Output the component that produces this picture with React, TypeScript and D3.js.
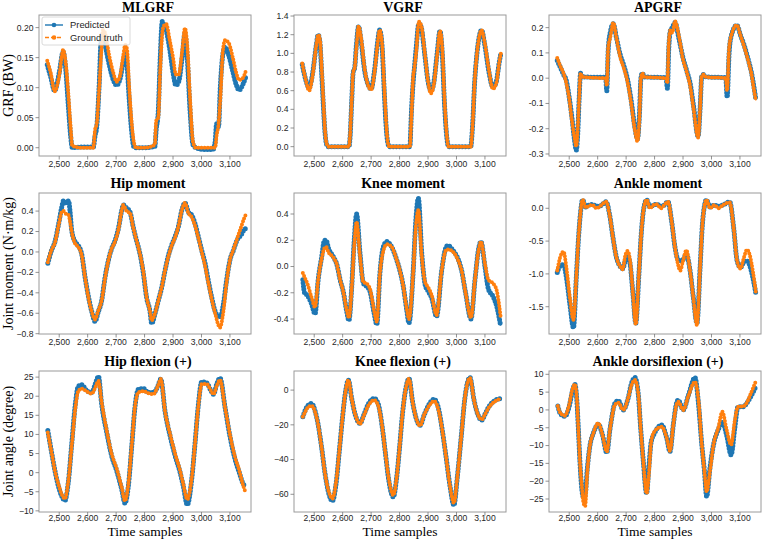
import React from 'react';
import * as d3 from 'd3';

const W = 766;
const H = 539;
const PRED_COLOR = '#1f77b4';
const TRUTH_COLOR = '#ff7f0e';
const SERIF = "'Liberation Serif', 'Times New Roman', serif";
const SANS = "'Liberation Sans', Arial, sans-serif";

// shared sample axis
const sampleTicks = [2500, 2600, 2700, 2800, 2900, 3000, 3100];

// ---- ground reaction forces ----
const mlgrfSamples = [2458, 2470, 2484, 2500, 2514, 2522, 2532, 2540, 2546, 2580, 2620, 2626, 2632, 2640, 2648, 2654, 2662, 2675, 2690, 2702, 2714, 2724, 2732, 2738, 2746, 2754, 2762, 2770, 2800, 2836, 2841, 2848, 2855, 2862, 2868, 2876, 2888, 2900, 2910, 2920, 2932, 2942, 2950, 2960, 2970, 2980, 3010, 3040, 3048, 3053, 3060, 3066, 3075, 3083, 3095, 3110, 3122, 3132, 3145, 3156];
const mlgrfPred = [0.138, 0.118, 0.095, 0.125, 0.16, 0.135, 0.07, 0.02, 0.0, 0.001, 0.001, 0.02, 0.035, 0.1, 0.185, 0.19, 0.17, 0.14, 0.113, 0.104, 0.115, 0.14, 0.157, 0.14, 0.08, 0.03, 0.002, 0.0, 0.0, 0.002, 0.03, 0.06, 0.15, 0.21, 0.205, 0.195, 0.165, 0.125, 0.104, 0.11, 0.15, 0.19, 0.15, 0.06, 0.005, 0.0, -0.003, -0.003, 0.01, 0.04, 0.035, 0.1, 0.155, 0.168, 0.155, 0.127, 0.105, 0.096, 0.105, 0.118];
const mlgrfTruth = [0.145, 0.125, 0.094, 0.12, 0.163, 0.145, 0.09, 0.035, 0.003, 0.0, 0.0, 0.03, 0.04, 0.095, 0.16, 0.196, 0.19, 0.155, 0.125, 0.11, 0.12, 0.15, 0.171, 0.165, 0.1, 0.045, 0.01, 0.0, 0.0, 0.005, 0.045, 0.05, 0.13, 0.19, 0.203, 0.206, 0.18, 0.15, 0.122, 0.122, 0.16, 0.199, 0.17, 0.08, 0.01, 0.0, 0.0, 0.0, 0.0, 0.02, 0.04, 0.08, 0.16, 0.179, 0.175, 0.15, 0.125, 0.113, 0.116, 0.128];

const vgrfSamples = [2458, 2470, 2482, 2495, 2507, 2514, 2520, 2526, 2532, 2538, 2544, 2550, 2622, 2626, 2632, 2637, 2642, 2648, 2656, 2664, 2678, 2690, 2700, 2712, 2722, 2730, 2738, 2746, 2752, 2758, 2764, 2836, 2842, 2848, 2852, 2858, 2868, 2876, 2888, 2900, 2910, 2920, 2932, 2942, 2950, 2958, 2966, 2972, 3050, 3056, 3064, 3072, 3080, 3088, 3100, 3114, 3128, 3140, 3150, 3156];
const vgrfPred = [0.88, 0.72, 0.63, 0.8, 1.08, 1.2, 1.12, 0.8, 0.45, 0.15, 0.02, 0.0, 0.0, 0.1, 0.5, 0.8, 0.84, 1.08, 1.29, 1.15, 0.8, 0.66, 0.62, 0.82, 1.1, 1.25, 1.1, 0.6, 0.25, 0.05, 0.0, 0.0, 0.4, 0.7, 0.84, 1.05, 1.32, 1.28, 1.0, 0.7, 0.6, 0.68, 1.0, 1.24, 1.0, 0.45, 0.1, 0.0, 0.0, 0.2, 0.7, 1.0, 1.18, 1.25, 1.08, 0.8, 0.64, 0.7, 0.9, 1.0];
const vgrfTruth = [0.89, 0.72, 0.6, 0.78, 1.08, 1.2, 1.15, 0.85, 0.5, 0.17, 0.03, 0.0, 0.0, 0.12, 0.5, 0.8, 0.84, 1.05, 1.29, 1.18, 0.82, 0.65, 0.61, 0.8, 1.08, 1.25, 1.12, 0.65, 0.3, 0.06, 0.0, 0.0, 0.35, 0.75, 0.84, 1.0, 1.34, 1.3, 1.02, 0.7, 0.57, 0.66, 0.98, 1.24, 1.05, 0.5, 0.12, 0.0, 0.0, 0.2, 0.7, 1.0, 1.18, 1.25, 1.1, 0.82, 0.62, 0.68, 0.9, 1.0];

const apgrfSamples = [2458, 2468, 2480, 2490, 2500, 2510, 2518, 2525, 2530, 2535, 2540, 2546, 2580, 2628, 2632, 2637, 2644, 2655, 2666, 2680, 2692, 2705, 2718, 2730, 2740, 2747, 2752, 2757, 2764, 2840, 2845, 2850, 2856, 2862, 2872, 2885, 2900, 2913, 2925, 2937, 2953, 2960, 2966, 2972, 2980, 3050, 3055, 3062, 3070, 3089, 3102, 3115, 3130, 3140, 3150, 3156];
const apgrfPred = [0.07, 0.045, 0.015, -0.01, -0.075, -0.16, -0.24, -0.285, -0.22, -0.08, 0.02, 0.005, 0.004, 0.003, -0.05, 0.11, 0.18, 0.215, 0.16, 0.09, 0.05, -0.005, -0.09, -0.19, -0.24, -0.14, 0.0, 0.02, 0.005, 0.002, -0.04, 0.12, 0.19, 0.2, 0.22, 0.16, 0.08, 0.03, -0.02, -0.11, -0.23, -0.12, 0.01, 0.015, 0.005, 0.002, -0.075, 0.1, 0.17, 0.21, 0.17, 0.13, 0.07, 0.025, -0.04, -0.085];
const apgrfTruth = [0.08, 0.05, 0.02, -0.02, -0.08, -0.17, -0.23, -0.27, -0.2, -0.08, 0.02, 0.005, 0.002, 0.0, -0.03, 0.12, 0.16, 0.22, 0.16, 0.08, 0.04, -0.015, -0.1, -0.2, -0.25, -0.15, 0.0, 0.02, 0.005, 0.0, -0.02, 0.14, 0.19, 0.18, 0.225, 0.17, 0.075, 0.025, -0.03, -0.12, -0.235, -0.12, 0.01, 0.015, 0.005, 0.0, -0.05, 0.12, 0.17, 0.21, 0.17, 0.125, 0.065, 0.02, -0.05, -0.088];

// ---- joint moments ----
const hipMomentSamples = [2460, 2473, 2485, 2497, 2509, 2515, 2525, 2533, 2538, 2544, 2556, 2567, 2579, 2591, 2603, 2614, 2626, 2638, 2649, 2661, 2673, 2684, 2696, 2708, 2720, 2725, 2737, 2749, 2760, 2772, 2784, 2796, 2807, 2819, 2825, 2837, 2848, 2860, 2872, 2884, 2895, 2907, 2919, 2931, 2942, 2954, 2966, 2977, 2989, 3001, 3013, 3024, 3036, 3048, 3065, 3077, 3088, 3100, 3112, 3124, 3140, 3150, 3155];
const hipMomentPred = [-0.11, 0.015, 0.1, 0.26, 0.44, 0.5, 0.48, 0.5, 0.4, 0.21, 0.1, 0.065, -0.02, -0.25, -0.44, -0.58, -0.68, -0.58, -0.48, -0.25, -0.08, 0.03, 0.11, 0.23, 0.41, 0.46, 0.43, 0.39, 0.245, 0.11, -0.02, -0.215, -0.445, -0.58, -0.7, -0.6, -0.48, -0.35, -0.18, -0.03, 0.065, 0.15, 0.25, 0.41, 0.48, 0.39, 0.36, 0.28, 0.15, 0.015, -0.115, -0.28, -0.445, -0.58, -0.64, -0.51, -0.28, -0.08, 0.015, 0.11, 0.17, 0.22, 0.23];
const hipMomentTruth = [-0.1, 0.02, 0.09, 0.25, 0.39, 0.4, 0.37, 0.36, 0.3, 0.2, 0.08, 0.05, -0.03, -0.25, -0.45, -0.58, -0.66, -0.57, -0.48, -0.26, -0.08, 0.03, 0.1, 0.22, 0.41, 0.46, 0.4, 0.38, 0.24, 0.11, -0.02, -0.2, -0.44, -0.58, -0.67, -0.6, -0.48, -0.35, -0.18, -0.04, 0.06, 0.14, 0.25, 0.41, 0.48, 0.38, 0.34, 0.26, 0.14, 0.0, -0.14, -0.3, -0.46, -0.6, -0.74, -0.58, -0.3, -0.08, 0.02, 0.12, 0.25, 0.33, 0.36];

const kneeMomentSamples = [2460, 2466, 2476, 2490, 2503, 2514, 2526, 2536, 2542, 2550, 2567, 2579, 2591, 2603, 2614, 2622, 2632, 2640, 2649, 2661, 2673, 2684, 2696, 2710, 2720, 2731, 2743, 2755, 2772, 2790, 2801, 2813, 2825, 2833, 2848, 2857, 2866, 2878, 2890, 2901, 2913, 2930, 2948, 2962, 2969, 2989, 3007, 3018, 3032, 3051, 3065, 3079, 3086, 3100, 3112, 3129, 3141, 3155];
const kneeMomentPred = [-0.1, -0.2, -0.22, -0.28, -0.36, -0.1, 0.07, 0.2, 0.2, 0.14, 0.075, 0.02, -0.1, -0.2, -0.34, -0.41, -0.15, 0.18, 0.4, 0.1, -0.13, -0.15, -0.19, -0.35, -0.44, -0.05, 0.15, 0.19, 0.15, 0.05, -0.03, -0.15, -0.33, -0.43, -0.03, 0.35, 0.52, 0.1, -0.14, -0.19, -0.24, -0.38, -0.03, 0.14, 0.16, 0.12, 0.05, -0.03, -0.2, -0.4, -0.1, 0.15, 0.19, 0.0, -0.17, -0.23, -0.3, -0.45];
const kneeMomentTruth = [-0.05, -0.08, -0.13, -0.23, -0.31, -0.1, 0.06, 0.14, 0.15, 0.11, 0.07, 0.02, -0.1, -0.2, -0.33, -0.39, -0.16, 0.14, 0.34, 0.08, -0.12, -0.13, -0.17, -0.33, -0.42, -0.05, 0.12, 0.17, 0.15, 0.05, -0.03, -0.15, -0.32, -0.4, -0.04, 0.3, 0.43, 0.08, -0.12, -0.16, -0.22, -0.37, -0.03, 0.12, 0.13, 0.11, 0.04, -0.03, -0.2, -0.39, -0.1, 0.14, 0.19, 0.02, -0.1, -0.13, -0.18, -0.38];

const ankleMomentSamples = [2458, 2468, 2480, 2490, 2502, 2515, 2525, 2532, 2539, 2547, 2558, 2570, 2582, 2596, 2610, 2630, 2642, 2654, 2666, 2678, 2688, 2697, 2705, 2714, 2724, 2734, 2745, 2753, 2762, 2772, 2784, 2796, 2808, 2822, 2834, 2847, 2860, 2872, 2882, 2890, 2900, 2912, 2923, 2936, 2949, 2960, 2968, 2974, 2982, 2995, 3010, 3025, 3040, 3064, 3078, 3090, 3102, 3114, 3125, 3135, 3145, 3156];
const ankleMomentPred = [-0.98, -0.88, -0.86, -1.05, -1.45, -1.82, -1.05, -0.5, -0.1, 0.13, 0.02, 0.05, 0.06, 0.03, 0.04, 0.1, -0.1, -0.45, -0.75, -0.88, -0.92, -0.8, -0.72, -0.85, -1.3, -1.75, -1.0, -0.4, 0.0, 0.13, 0.02, 0.05, 0.06, 0.03, 0.05, 0.1, -0.2, -0.6, -0.78, -0.8, -0.78, -0.7, -0.9, -1.35, -1.75, -0.9, -0.25, 0.0, 0.13, 0.02, 0.05, 0.03, 0.05, 0.1, -0.3, -0.8, -0.9, -0.82, -0.8, -0.88, -1.05, -1.3];
const ankleMomentTruth = [-0.95, -0.75, -0.66, -0.9, -1.35, -1.7, -1.05, -0.5, -0.1, 0.13, 0.01, 0.04, 0.05, 0.0, 0.04, 0.1, -0.1, -0.45, -0.75, -0.88, -0.93, -0.72, -0.65, -0.8, -1.3, -1.77, -1.0, -0.4, 0.0, 0.13, 0.0, 0.05, 0.06, 0.0, 0.05, 0.1, -0.2, -0.6, -0.85, -0.95, -0.8, -0.64, -0.9, -1.35, -1.78, -0.9, -0.25, 0.0, 0.13, 0.0, 0.05, 0.0, 0.05, 0.09, -0.3, -0.8, -0.92, -0.75, -0.63, -0.72, -0.95, -1.28];

// ---- joint angles ----
const hipAngleSamples = [2460, 2474, 2485, 2497, 2508, 2520, 2532, 2544, 2556, 2567, 2579, 2596, 2614, 2628, 2638, 2649, 2667, 2684, 2702, 2720, 2731, 2743, 2755, 2766, 2778, 2796, 2813, 2831, 2846, 2857, 2872, 2890, 2907, 2925, 2936, 2950, 2966, 2977, 2989, 3001, 3018, 3033, 3042, 3055, 3065, 3083, 3100, 3118, 3133, 3147, 3156];
const hipAnglePred = [11, 5, 0.5, -3.5, -6, -7.3, -2.5, 7.5, 17.5, 22.6, 23, 21.5, 21, 23.5, 25.2, 18, 10.5, 4.5, 0.5, -4.5, -8, -3.5, 7, 17, 21.8, 22, 21, 21, 22.5, 24.5, 16, 9.5, 4.5, 0, -3.5, -8.4, -1.5, 7.4, 17.8, 23.8, 23.5, 21.5, 20.5, 23.5, 24.8, 17, 9.5, 3.5, 0, -3, -3.5];
const hipAngleTruth = [10.5, 5, 0.5, -3, -5.5, -6.8, -2.2, 7, 16.5, 21.3, 22, 21.3, 20.7, 22.5, 24, 18.5, 11, 5, 1, -4, -7.4, -3, 7.2, 17, 21, 21.3, 20.8, 20.5, 22.5, 24.5, 16, 10, 5, 0.5, -3, -7, -1.3, 7.4, 17.5, 23.2, 23.2, 21.5, 20.5, 23, 24.3, 17, 10, 4, 0.5, -3.5, -5.3];

const kneeAngleSamples = [2460, 2470, 2480, 2491, 2503, 2514, 2526, 2538, 2552, 2564, 2576, 2590, 2600, 2610, 2620, 2632, 2644, 2653, 2661, 2675, 2690, 2711, 2725, 2738, 2750, 2762, 2778, 2790, 2800, 2810, 2822, 2833, 2846, 2858, 2872, 2887, 2904, 2921, 2936, 2950, 2963, 2977, 2991, 3003, 3016, 3030, 3047, 3062, 3075, 3089, 3100, 3112, 3135, 3156];
const kneeAnglePred = [-15.4, -11, -8.5, -7.7, -12, -20, -33, -48, -60, -63.8, -55, -32, -15, -1, 5.8, -5, -14, -18, -19.2, -14, -8, -4.8, -8, -20, -36, -52, -61.5, -50, -33, -14, 1, 6.7, -7, -16, -20.2, -14, -8, -5.2, -10, -23, -38, -55, -66.3, -50, -28, -4, 7.3, -6, -14, -17.3, -14, -10, -6, -4.8];
const kneeAngleTruth = [-15.4, -12, -9.5, -9, -12.5, -20, -33, -48, -59, -62.5, -54, -32, -15, -1, 5.8, -5, -14, -18, -19.5, -14.5, -9, -5.8, -9, -20, -36, -51, -60.5, -50, -33, -14, 1, 6.5, -7, -16, -20.5, -14, -9, -6.3, -11, -23, -38, -55, -65, -50, -28, -4, 7, -6, -14, -17, -14, -10.5, -6.5, -5];

const ankleAngleSamples = [2460, 2470, 2485, 2500, 2512, 2520, 2527, 2532, 2538, 2544, 2550, 2556, 2563, 2573, 2585, 2602, 2617, 2632, 2644, 2661, 2673, 2690, 2707, 2719, 2731, 2743, 2751, 2760, 2772, 2780, 2788, 2800, 2825, 2843, 2854, 2866, 2877, 2883, 2901, 2919, 2942, 2954, 2966, 2975, 2983, 2995, 3007, 3024, 3038, 3053, 3069, 3082, 3093, 3112, 3124, 3135, 3156];
const ankleAnglePred = [1.1, -1.2, -1.8, 1.0, 5.5, 7.2, 2.5, -5, -15, -22, -24.5, -24, -17, -10, -6.5, -4, -7, -12, -5, 1.9, 2.6, 0, 3.3, 7.5, 9.1, 4.2, -5, -14, -23.4, -16, -9, -6.5, -4.2, -8, -11.7, -4, 1.9, 2.8, 0, 4.2, 9.1, 2, -9.8, -17, -24.3, -16, -9.8, -5.5, -3.3, -7, -12.6, -5, 0.9, 0.9, 1.9, 3.3, 6.6];
const ankleAngleTruth = [1.1, -1.0, -1.6, 1.5, 6, 7.2, 3, -5, -15, -21, -26, -27, -18, -10, -6.5, -3.7, -7, -11.7, -5, 1.5, 2, 0, 3.3, 7, 8.4, 4.5, -5, -14, -23.4, -18, -9, -6, -4.7, -8, -11.5, -4, 1.5, 2.3, 0, 4, 7.9, 3, -9.8, -17, -23, -17, -9.8, -5, -0.5, -5.5, -9.8, -3, 0.9, 1.0, 2, 4, 8.1];

// y tick values per panel
const mlgrfTicks = [0, 0.05, 0.1, 0.15, 0.2];
const vgrfTicks = [0, 0.2, 0.4, 0.6, 0.8, 1.0, 1.2, 1.4];
const apgrfTicks = [-0.3, -0.2, -0.1, 0, 0.1, 0.2];
const hipMomentTicks = [-0.8, -0.6, -0.4, -0.2, 0, 0.2, 0.4];
const kneeMomentTicks = [-0.4, -0.2, 0, 0.2, 0.4];
const ankleMomentTicks = [-1.5, -1.0, -0.5, 0];
const hipAngleTicks = [-10, -5, 0, 5, 10, 15, 20, 25];
const kneeAngleTicks = [-60, -40, -20, 0];
const ankleAngleTicks = [-25, -20, -15, -10, -5, 0, 5, 10];

const rowLabels = ['GRF (BW)', 'Joint moment (N\u00b7m/kg)', 'Joint angle (degree)'];

// layout
const COL_X = [39, 294, 549];
const ROW_Y = [15, 193, 371];
const PW = 212;
const PH = 141;
const X_DOMAIN: [number, number] = [2429, 3174];

const fmtFixed = (digits: number, hyphen = false) => (v: number) => {
  const s = d3.format(`.${digits}f`)(v);
  return hyphen ? s.replace('\u2212', '-') : s;
};
const fmtInt = d3.format('d');
const fmtSample = d3.format(',');

interface PanelSpec {
  title: string;
  xs: number[];
  pred: number[];
  truth: number[];
  yDomain: [number, number];
  yTicks: number[];
  fmt: (v: number) => string;
}

const panels: PanelSpec[] = [
  { title: 'MLGRF', xs: mlgrfSamples, pred: mlgrfPred, truth: mlgrfTruth, yDomain: [-0.0138, 0.221], yTicks: mlgrfTicks, fmt: fmtFixed(2) },
  { title: 'VGRF', xs: vgrfSamples, pred: vgrfPred, truth: vgrfTruth, yDomain: [-0.1, 1.411], yTicks: vgrfTicks, fmt: fmtFixed(1) },
  { title: 'APGRF', xs: apgrfSamples, pred: apgrfPred, truth: apgrfTruth, yDomain: [-0.308, 0.25], yTicks: apgrfTicks, fmt: fmtFixed(1, true) },
  { title: 'Hip moment', xs: hipMomentSamples, pred: hipMomentPred, truth: hipMomentTruth, yDomain: [-0.803, 0.577], yTicks: hipMomentTicks, fmt: fmtFixed(1) },
  { title: 'Knee moment', xs: kneeMomentSamples, pred: kneeMomentPred, truth: kneeMomentTruth, yDomain: [-0.514, 0.56], yTicks: kneeMomentTicks, fmt: fmtFixed(1, true) },
  { title: 'Ankle moment', xs: ankleMomentSamples, pred: ankleMomentPred, truth: ankleMomentTruth, yDomain: [-1.916, 0.233], yTicks: ankleMomentTicks, fmt: fmtFixed(1, true) },
  { title: 'Hip flexion (+)', xs: hipAngleSamples, pred: hipAnglePred, truth: hipAngleTruth, yDomain: [-10.3, 26.6], yTicks: hipAngleTicks, fmt: fmtInt },
  { title: 'Knee flexion (+)', xs: kneeAngleSamples, pred: kneeAnglePred, truth: kneeAngleTruth, yDomain: [-70.2, 11], yTicks: kneeAngleTicks, fmt: fmtInt },
  { title: 'Ankle dorsiflexion (+)', xs: ankleAngleSamples, pred: ankleAnglePred, truth: ankleAngleTruth, yDomain: [-28.65, 10.93], yTicks: ankleAngleTicks, fmt: fmtInt },
];

const Series: React.FC<{ d: string; color: string; dashed?: boolean; dot: number }> = ({ d, color, dashed, dot }) => (
  <g>
    <path d={d} fill="none" stroke={color} strokeWidth={1.6} strokeDasharray={dashed ? '5 2.2' : undefined} />
    {/* dense sample markers */}
    <path d={d} fill="none" stroke={color} strokeWidth={dot} strokeLinecap="round" strokeDasharray="0 3.2" />
  </g>
);

const Panel: React.FC<{ spec: PanelSpec; index: number }> = ({ spec, index }) => {
  const col = index % 3;
  const row = Math.floor(index / 3);
  const x0 = COL_X[col];
  const y0 = ROW_Y[row];
  const x = d3.scaleLinear().domain(X_DOMAIN).range([x0, x0 + PW]);
  const y = d3.scaleLinear().domain(spec.yDomain).range([y0 + PH, y0]);
  const line = d3.line<number>()
    .x((_, i) => x(spec.xs[i]))
    .y(v => y(v))
    .curve(d3.curveMonotoneX);
  const clipId = `clip-${index}`;
  const tickY = row === 2 ? y0 + PH + 9 : y0 + PH + 10.6;

  return (
    <g>
      <clipPath id={clipId}>
        <rect x={x0} y={y0} width={PW} height={PH} />
      </clipPath>
      <g clipPath={`url(#${clipId})`}>
        <Series d={line(spec.pred) ?? ''} color={PRED_COLOR} dot={5} />
        <Series d={line(spec.truth) ?? ''} color={TRUTH_COLOR} dashed dot={4} />
      </g>
      <rect x={x0} y={y0} width={PW} height={PH} fill="none" stroke="#9a9a9a" strokeWidth={1} />

      {/* x axis */}
      {sampleTicks.map(t => (
        <g key={t}>
          <line x1={x(t)} x2={x(t)} y1={y0 + PH} y2={y0 + PH + 3.5} stroke="#777" strokeWidth={0.8} />
          <text x={x(t)} y={tickY} textAnchor="middle" fontFamily={SANS} fontSize={8.6} fill="#262626">
            {fmtSample(t)}
          </text>
        </g>
      ))}

      {/* y axis */}
      {spec.yTicks.map(t => (
        <g key={t}>
          <line x1={x0 - 3.5} x2={x0} y1={y(t)} y2={y(t)} stroke="#777" strokeWidth={0.8} />
          <text x={x0 - 5.5} y={y(t)} dy="0.34em" textAnchor="end" fontFamily={SANS} fontSize={8.6} fill="#262626">
            {spec.fmt(t)}
          </text>
        </g>
      ))}

      <text x={x0 + PW / 2 + 3} y={row === 0 ? 11.5 : y0 - 5} textAnchor="middle" fontFamily={SERIF} fontWeight="bold" fontSize={14} fill="#000">
        {spec.title}
      </text>

      {col === 0 && (
        <text transform={`translate(12.5,${y0 + PH / 2}) rotate(-90)`} textAnchor="middle" fontFamily={SERIF} fontSize={14} fill="#000">
          {rowLabels[row]}
        </text>
      )}
      {row === 2 && (
        <text x={x0 + PW / 2} y={535.5} textAnchor="middle" fontFamily={SERIF} fontSize={13.5} fill="#000">
          Time samples
        </text>
      )}
    </g>
  );
};

const Legend: React.FC = () => {
  const lx = 42;
  const ly = 17;
  const rows = [
    { label: 'Predicted', color: PRED_COLOR, dashed: false },
    { label: 'Ground truth', color: TRUTH_COLOR, dashed: true },
  ];
  return (
    <g>
      <rect x={lx} y={ly} width={88} height={28} rx={2} fill="#fff" fillOpacity={0.8} stroke="#d0d0d0" strokeWidth={0.8} />
      {rows.map((r, i) => {
        const cy = ly + 8 + i * 12.5;
        return (
          <g key={r.label}>
            <line x1={lx + 3} x2={lx + 21} y1={cy} y2={cy} stroke={r.color} strokeWidth={1.4} strokeDasharray={r.dashed ? '4 2' : undefined} />
            <circle cx={lx + 12} cy={cy} r={2.3} fill={r.color} />
            <text x={lx + 28} y={cy} dy="0.34em" fontFamily={SANS} fontSize={9.4} fill="#262626">
              {r.label}
            </text>
          </g>
        );
      })}
    </g>
  );
};

export default function App() {
  return (
    <svg width={W} height={H} viewBox={`0 0 ${W} ${H}`} style={{ position: 'absolute', left: 0, top: 0, background: '#fff' }}>
      {panels.map((p, i) => (
        <Panel key={p.title} spec={p} index={i} />
      ))}
      <Legend />
    </svg>
  );
}
